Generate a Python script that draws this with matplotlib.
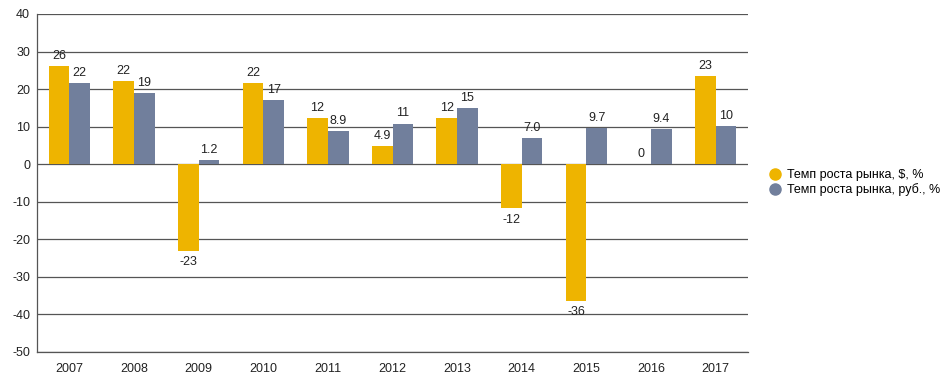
import numpy as np
import matplotlib
matplotlib.use('Agg')
import matplotlib.pyplot as plt
from matplotlib.lines import Line2D

plt.rcParams['font.family'] = ['Liberation Sans', 'DejaVu Sans']
plt.rcParams['axes.unicode_minus'] = False

years = ['2007', '2008', '2009', '2010', '2011', '2012', '2013', '2014', '2015', '2016', '2017']
usd_growth = [26.2, 22.1, -23.0, 21.6, 12.3, 4.9, 12.3, -11.7, -36.4, 0.0, 23.4]
rub_growth = [21.6, 19.0, 1.2, 17.0, 8.9, 10.8, 15.0, 7.0, 9.7, 9.4, 10.2]
usd_labels = ['26', '22', '-23', '22', '12', '4.9', '12', '-12', '-36', '0', '23']
rub_labels = ['22', '19', '1.2', '17', '8.9', '11', '15', '7.0', '9.7', '9.4', '10']
series_names = ['Темп роста рынка, $, %', 'Темп роста рынка, руб., %']

gold = '#EEB400'
slate = '#717F9C'


def run_main():
    fig = plt.figure(figsize=(9.43, 3.84), dpi=100)
    ax = fig.add_axes([37 / 943, 1 - 352 / 384, (748 - 37) / 943, (352 - 14) / 384])

    x = np.arange(len(years))
    w = 0.32
    ax.bar(x - w / 2, usd_growth, w, color=gold, zorder=3)
    ax.bar(x + w / 2, rub_growth, w, color=slate, zorder=3)

    # value labels: above for positive, below for negative
    for xs, vals, labs in ((x - w / 2, usd_growth, usd_labels), (x + w / 2, rub_growth, rub_labels)):
        for xi, v, lab in zip(xs, vals, labs):
            if v >= 0:
                ax.annotate(lab, (xi, v), xytext=(0, 3), textcoords='offset points',
                            ha='center', va='bottom', fontsize=9, color='#222222')
            else:
                ax.annotate(lab, (xi, v), xytext=(0, -4), textcoords='offset points',
                            ha='center', va='top', fontsize=9, color='#222222')

    ax.set_xlim(-0.5, len(years) - 0.5)
    ax.set_ylim(-50, 40)
    ax.set_yticks(range(-50, 41, 10))
    ax.yaxis.grid(True, color='#555555', linewidth=0.9, zorder=0)
    ax.set_xticks(x)
    ax.set_xticklabels(years)
    ax.tick_params(axis='both', length=0, labelsize=9, colors='#222222')
    ax.tick_params(axis='x', pad=8)
    ax.tick_params(axis='y', pad=5)

    for s in ('top', 'right'):
        ax.spines[s].set_visible(False)
    for s in ('left', 'bottom'):
        ax.spines[s].set_color('#555555')
        ax.spines[s].set_linewidth(0.9)

    handles = [Line2D([], [], marker='o', linestyle='', markersize=8, color=c) for c in (gold, slate)]
    fig.legend(handles, series_names, loc='upper left', bbox_to_anchor=(762 / 943, 1 - 164 / 384),
               frameon=False, fontsize=9, handletextpad=0.4, labelspacing=0.2,
               borderaxespad=0, handlelength=1.2)

    fig.savefig('out.png', dpi=100)


if __name__ == "__main__":
    run_main()
